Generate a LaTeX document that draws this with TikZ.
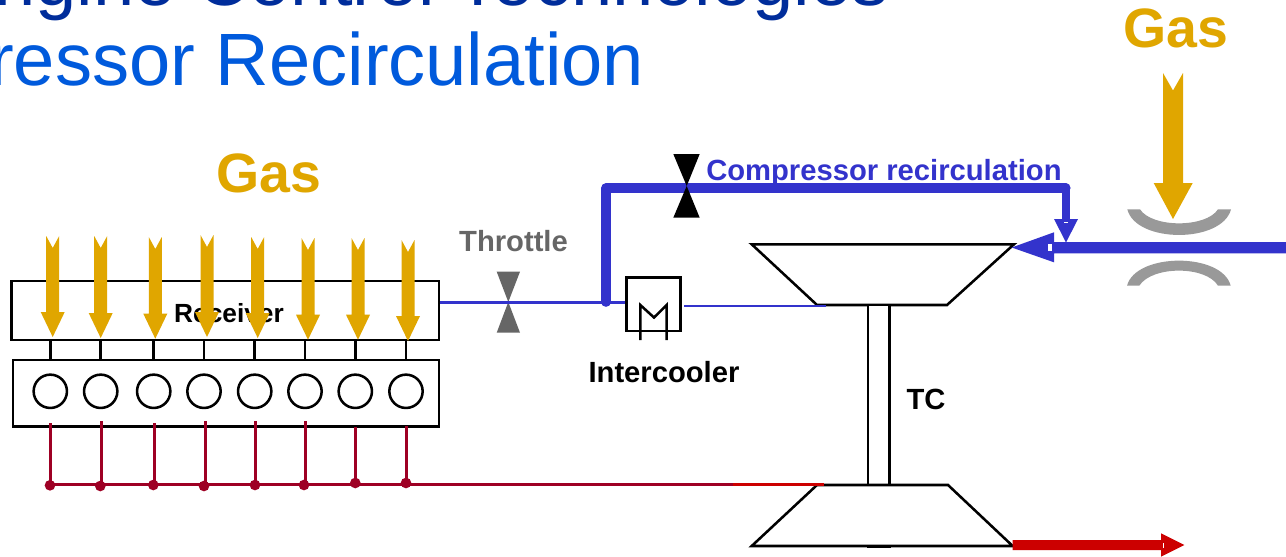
\documentclass[tikz,border=0pt]{standalone}
\usepackage{fontspec}
\setmainfont{Liberation Sans}
\definecolor{gold}{RGB}{224,166,0}
\definecolor{rblue}{RGB}{51,51,204}
\definecolor{wine}{RGB}{158,0,36}
\definecolor{rred}{RGB}{204,0,0}
\definecolor{tdark}{RGB}{0,45,155}
\definecolor{tlight}{RGB}{0,90,220}
\definecolor{vgrey}{RGB}{102,102,102}
\definecolor{ngrey}{RGB}{153,153,153}
\tikzset{
  x=0.75pt,y=-0.75pt,
  box/.style={draw=black,line width=1.9pt,fill=white,inner sep=0pt,outer sep=0pt},
  blk/.style={draw=black,line width=1.9pt,line join=miter},
  cyl/.style={circle,draw=black,line width=1.9pt,fill=white,minimum size=25pt,inner sep=0pt,outer sep=0pt},
  dot/.style={circle,fill=wine,inner sep=0pt,outer sep=0pt,minimum size=8pt},
  lbl/.style={inner sep=0pt,font=\bfseries},
  title/.style={inner sep=0pt,anchor=base west,font=\fontsize{55.6pt}{56pt}\selectfont},
}
\newcommand{\goldarrow}[3]{% x, top y, tip y
  \fill[gold] (#1-6.5,#2) -- (#1,#2+12) -- (#1+6.5,#2) -- (#1+6.5,#3-25)
     -- (#1+12,#3-25) -- (#1,#3) -- (#1-12,#3-25) -- (#1-6.5,#3-25) -- cycle;}
\begin{document}
\begin{tikzpicture}
\useasboundingbox (0,0) rectangle (1286,557);
\clip (0,0) rectangle (1286,557);
\fill[white] (0,0) rectangle (1286,557);
% titles
\node[title,text=tdark] (t1) at (-6,5) {ngine Control Technologies};
\node[title,text=tlight] (t2) at (-11,85) {ressor Recirculation};
% receiver and engine
\node[box,anchor=north west,minimum width=320.6pt,minimum height=44.3pt] (recv) at (11.7,281) {};
\node[lbl,font=\bfseries\fontsize{19.7pt}{20pt}\selectfont] (rtext) at (229,313) {Receiver};
\node[box,anchor=north west,minimum width=319.5pt,minimum height=50pt] (eng) at (13,360) {};
% cylinders, links, exhausts
\foreach \i/\cx/\ex/\dx/\dy/\ey in {1/50.3/50.3/50/485.3/423.3,2/100.7/101.3/100.3/486/421,3/153.7/154.3/153.3/485/423,4/204/205.3/204/486/421,5/254.7/255.3/255/485/421,6/305/305.3/304/485/421,7/355.3/355.3/355.3/483/427,8/406/406.3/406/483/426}{
  \node[cyl] (c\i) at (\cx,391.3) {};
  \coordinate (lt\i) at (\cx,341);
  \coordinate (lb\i) at (\cx,360);
  \draw[line width=1.9pt] (lt\i) -- (lb\i);
  \coordinate (ex\i) at (\ex,\ey);
  \coordinate (ey\i) at (\ex,\dy);
  \node[dot] (d\i) at (\dx,\dy) {};
  \draw[wine,line width=2.2pt] (ex\i) -- (ey\i);
}
\goldarrow{52.7}{236}{337}
\goldarrow{100.7}{236}{338}
\goldarrow{155.3}{237}{338.7}
\goldarrow{207}{235}{337}
\goldarrow{257.7}{237}{338}
\goldarrow{308}{238}{339.7}
\goldarrow{358}{238}{339.7}
\goldarrow{408}{240}{341}
% exhaust manifold
\coordinate (mStart) at (50,484.4);
\coordinate (mMid) at (733,484.4);
\coordinate (mEnd) at (824,484.4);
\draw[wine,line width=2.2pt] (mStart) -- (mMid);
% throttle valve
\fill[vgrey] (496.7,271.7) -- (520,271.7) -- (508.3,302) -- (520,332.7) -- (496.7,332.7) -- (508.3,302) -- cycle;
\node[lbl,text=vgrey,font=\bfseries\fontsize{21.9pt}{22pt}\selectfont] (thr) at (513.5,241.5) {Throttle};
% thin blue
\coordinate (recvOut) at (440,302.3);
\coordinate (junction) at (606,302.3);
\coordinate (icIn) at (627,302.3);
\coordinate (icOut) at (684,306);
\coordinate (compIn) at (825.7,306);
\draw[rblue,line width=2pt] (recvOut) -- (icIn);
% recirculation line
\coordinate (r1) at (606,188);
\coordinate (r2) at (1066,188);
\coordinate (r3) at (1066,221);
\draw[rblue,line width=6.8pt,line join=round,line cap=round] (junction) -- (r1) -- (r2);
\draw[rblue,line width=6pt,line join=round,line cap=round] (r2) -- (r3);
\fill[rblue] (1054,219) -- (1078,219) -- (1066,242.5) -- cycle;
\fill[white] (1064,221.6) rectangle (1068,222.6);
% recirculation valve
\fill[black] (673.3,154) -- (699.7,154) -- (686.7,186) -- (699.7,217.7) -- (673.3,217.7) -- (686.7,186) -- cycle;
\node[lbl,anchor=west,text=rblue,font=\bfseries\fontsize{21.9pt}{22pt}\selectfont] (crec) at (706,173) {Compressor recirculation};
% intercooler
\node[box,anchor=north west,minimum width=40.5pt,minimum height=40pt] (ic) at (626.7,277.7) {};
\draw[line width=1.9pt,line join=miter] (640.3,340) -- (640.3,305) -- (654,317.5) -- (666.7,305) -- (666.7,340);
\node[lbl,font=\bfseries\fontsize{21.9pt}{22pt}\selectfont] (ictext) at (664,372.5) {Intercooler};
% turbocharger
\draw[blk,fill=white] (751.7,244.3) -- (1014,244.3) -- (947,305) -- (817,305) -- cycle;
\draw[blk,fill=white] (868,305) rectangle (889.7,485);
\draw[blk,fill=white] (817,485) -- (948,485) -- (1012.7,546) -- (751.7,546) -- cycle;
\fill[black] (866.7,546) rectangle (891,547.6);
\draw[rblue,line width=2pt] (icOut) -- (compIn);
\draw[rred,line width=2.2pt] (mMid) -- (mEnd);
\node[lbl,font=\bfseries\fontsize{21.9pt}{22pt}\selectfont] (tc) at (926,399) {TC};
% gas inlet line and arrow
\fill[rblue] (1286,242.2) -- (1054,242.2) -- (1054,232.3) -- (1011.7,247.5) -- (1054,262.3) -- (1054,253.4) -- (1286,253.4) -- cycle;
\fill[white] (1048.3,244.3) rectangle (1052.3,250.7);
% nozzle
\fill[ngrey] (1127.3,209.3) -- (1140,209.3) .. controls (1152,228) and (1206,228) .. (1218,209.3) -- (1231,209.3)
  .. controls (1222,243.5) and (1136,243.5) .. (1127.3,209.3) -- cycle;
\fill[ngrey] (1127,285.7) -- (1139.3,285.7) .. controls (1152,265.6) and (1206,265.6) .. (1218,285.7) -- (1230.7,285.7)
  .. controls (1222,252.3) and (1136,252.3) .. (1127,285.7) -- cycle;
% top gas arrow
\fill[gold] (1163,73) -- (1173,90.5) -- (1183,73) -- (1183,183) -- (1192.7,183) -- (1173,219) -- (1153.7,183) -- (1163,183) -- cycle;
% gas labels
\node[lbl,text=gold,font=\bfseries\fontsize{41.6pt}{42pt}\selectfont] (g1) at (269,173) {Gas};
\node[lbl,text=gold,font=\bfseries\fontsize{41.6pt}{42pt}\selectfont] (g2) at (1175.5,28) {Gas};
% exhaust outlet arrow
\fill[rred] (1012.7,540) -- (1161,540) -- (1161,533.3) -- (1184.3,545) -- (1161,556.7) -- (1161,550) -- (1012.7,550) -- cycle;
\fill[white] (1163,543) rectangle (1164,548);
\end{tikzpicture}
\end{document}
